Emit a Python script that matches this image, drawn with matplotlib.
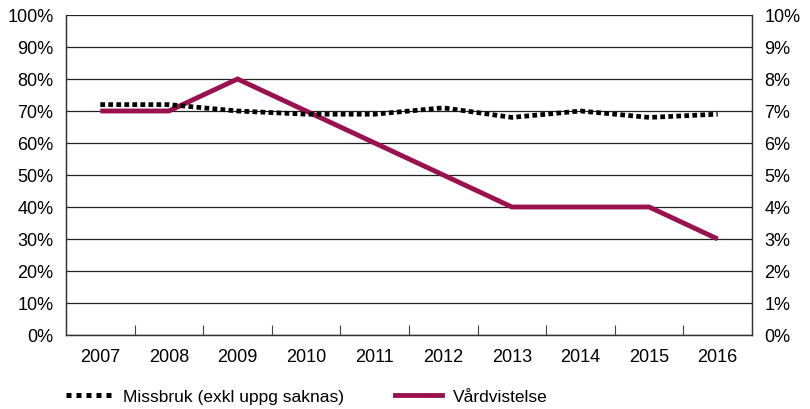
import matplotlib
matplotlib.use("Agg")
import matplotlib.pyplot as plt
from matplotlib.lines import Line2D
import numpy as np

years = ["2007", "2008", "2009", "2010", "2011", "2012", "2013", "2014", "2015", "2016"]
missbruk = [72, 72, 70, 69, 69, 71, 68, 70, 68, 69]          # left axis, %
vardvistelse = [7, 7, 8, 7, 6, 5, 4, 4, 4, 3]                # right axis, %
left_ticks = [0, 10, 20, 30, 40, 50, 60, 70, 80, 90, 100]
right_ticks = [0, 1, 2, 3, 4, 5, 6, 7, 8, 9, 10]

plt.rcParams['font.family'] = ['Liberation Sans', 'DejaVu Sans']
purple = "#9a1150"
dots = (0, (1, 0.7))

fig = plt.figure(figsize=(8.10, 4.09), dpi=100)
ax = fig.add_axes([66/810, 1 - 335/409, 686/810, 320/409])
ax2 = ax.twinx()

x = np.arange(len(years))

ax.set_xlim(-0.5, len(years) - 0.5)
ax.set_ylim(0, 100)
ax2.set_ylim(0, 10)
ax.set_yticks(left_ticks)
ax.set_yticklabels([f"{v}%" for v in left_ticks])
ax2.set_yticks(right_ticks)
ax2.set_yticklabels([f"{v}%" for v in right_ticks])
for v in left_ticks:
    ax.axhline(v, color="#222222", lw=0.9, zorder=1)

# purple series is plotted against the right axis scale (0-10%), mapped onto ax
scale = ax.get_ylim()[1] / ax2.get_ylim()[1]
ax.plot(x, [v * scale for v in vardvistelse], color=purple, lw=3.5,
        solid_capstyle="butt", solid_joinstyle="miter", zorder=2)
ax.plot(x, missbruk, color="black", lw=3.4, linestyle=dots, zorder=3)

ax.set_xticks(x)
ax.set_xticklabels(years)
ax.set_xticks(np.arange(0.5, len(years) - 1, 1), minor=True)
ax.tick_params(axis="x", which="major", length=0, pad=10, labelsize=13)
ax.tick_params(axis="x", which="minor", length=7, direction="in", width=0.8, color="#444444")
ax.tick_params(axis="y", length=0, pad=9, labelsize=13)
ax2.tick_params(axis="y", length=0, pad=9, labelsize=13)

for a in (ax, ax2):
    a.spines["top"].set_visible(False)
    for s in ("left", "right", "bottom"):
        a.spines[s].set_color("#333333")
        a.spines[s].set_linewidth(0.9)

ax.set_zorder(ax2.get_zorder() + 1)
ax.patch.set_visible(False)

handles = [Line2D([], [], color="black", lw=3.6, linestyle=(0, (1, 1))),
           Line2D([], [], color=purple, lw=3.5)]
fig.legend(handles, ["Missbruk (exkl uppg saknas)", "Vårdvistelse"],
           loc="center left", bbox_to_anchor=(50/810, 1 - 397/409), ncol=2,
           frameon=False, fontsize=12.5, handlelength=2.7, columnspacing=2.95,
           handletextpad=0.6)

fig.savefig("out.png", dpi=100)
